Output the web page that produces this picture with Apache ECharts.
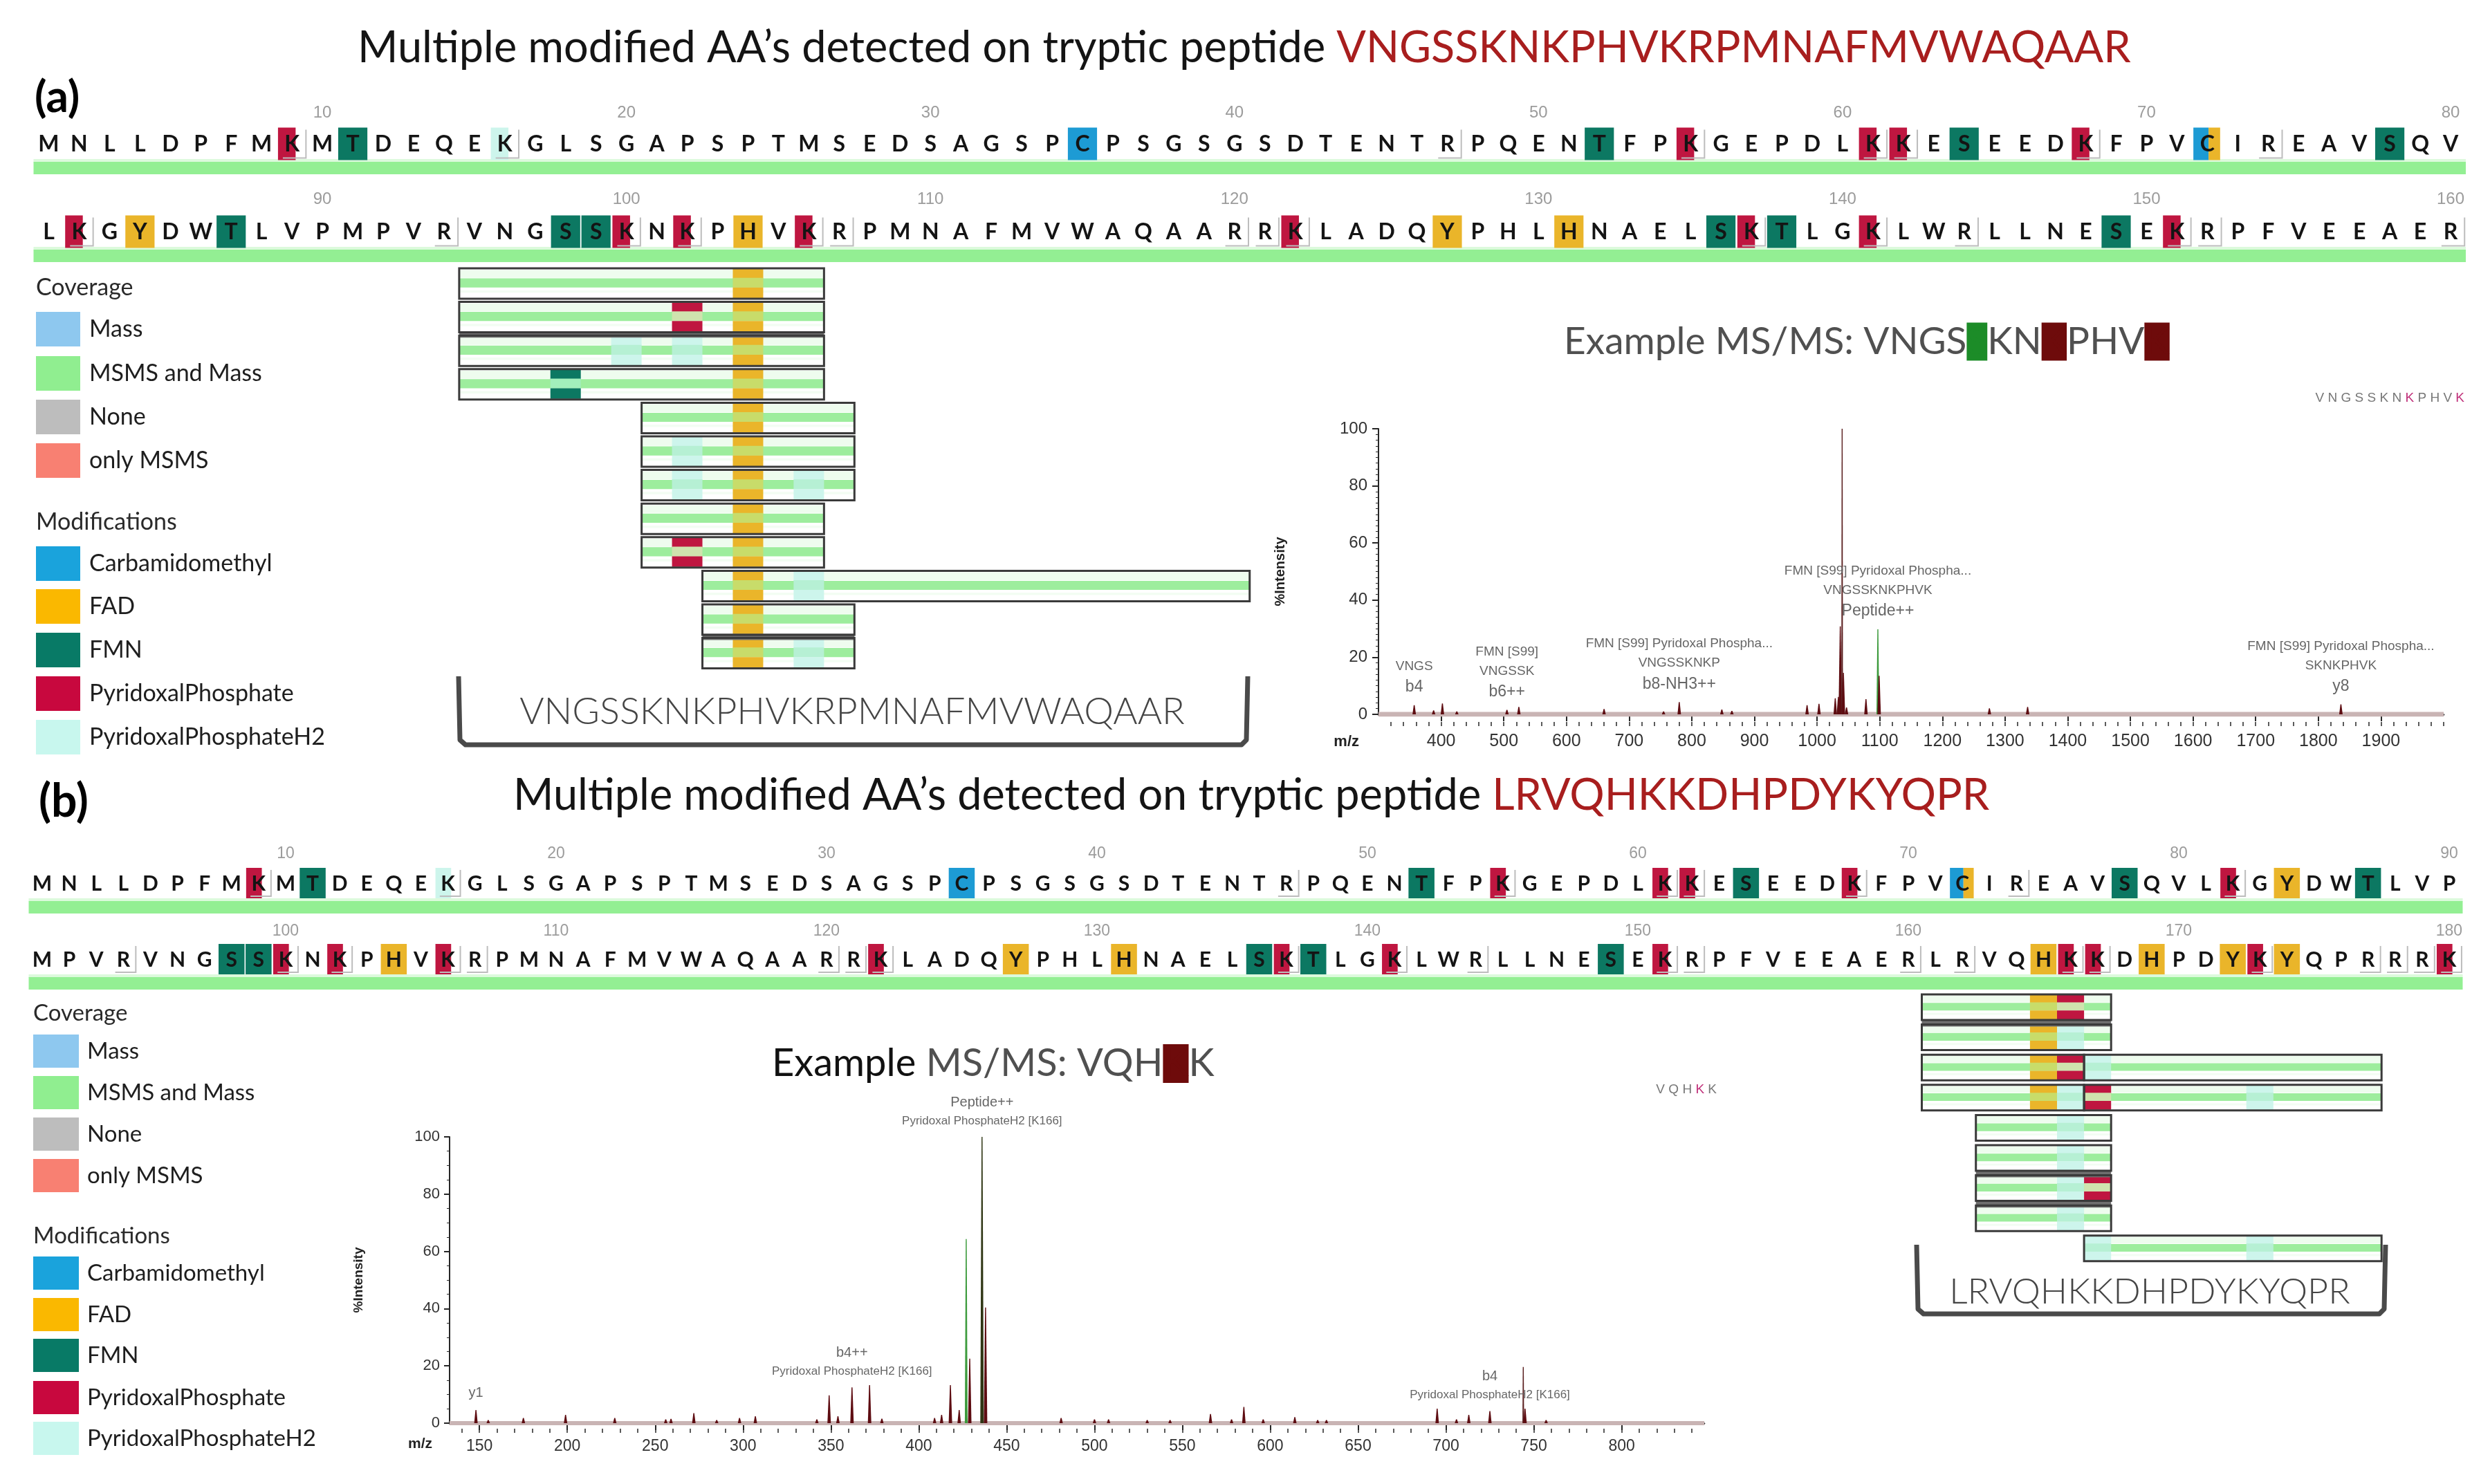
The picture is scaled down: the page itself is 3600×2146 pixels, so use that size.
<!DOCTYPE html>
<html>
<head>
<meta charset="utf-8">
<script src="https://cdn.jsdelivr.net/npm/echarts@6.0.0/dist/echarts.min.js"></script>
<style>
html,body{margin:0;padding:0;background:#ffffff;}
#chart{width:3600px;height:2146px;}
</style>
</head>
<body>
<div id="chart"></div>
<script>
// ================= DATA =================
const SEQUENCE = "MNLLDPFMKMTDEQEKGLSGAPSPTMSEDSAGSPCPSGSGSDTENTRPQENTFPKGEPDLKKESEEDKFPVCIREAVSQV" +
                 "LKGYDWTLVPMPVRVNGSSKNKPHVKRPMNAFMVWAQAARRKLADQYPHLHNAELSKTLGKLWRLLNESEKRPFVEEAER" +
                 "LRVQHKKDHPDYKYQPRRRK";
const PEPTIDE_A = "VNGSSKNKPHVKRPMNAFMVWAQAAR";
const PEPTIDE_B = "LRVQHKKDHPDYKYQPR";
const TITLE_TEXT = "Multiple modified AA\u2019s detected on tryptic peptide ";
const SEQ_TICKS_A = [10,20,30,40,50,60,70,80,90,100,110,120,130,140,150,160];
const SEQ_TICKS_B = [10,20,30,40,50,60,70,80,90,100,110,120,130,140,150,160,170,180];

// modified residues in the sequence view: [position, modification(s)]
const SEQ_MODS = [
  [9,'PP'],[11,'FMN'],[16,'PPH2'],[35,'CAM'],[52,'FMN'],[55,'PP'],[61,'PP'],[62,'PP'],[64,'FMN'],[68,'PP'],[72,'CAM','FAD'],[78,'FMN'],
  [82,'PP'],[84,'FAD'],[87,'FMN'],[98,'FMN'],[99,'FMN'],[100,'PP'],[102,'PP'],[104,'FAD'],[106,'PP'],[122,'PP'],[127,'FAD'],[131,'FAD'],
  [136,'FMN'],[137,'PP'],[138,'FMN'],[141,'PP'],[149,'FMN'],[151,'PP']
];
const SEQ_MODS_B_EXTRA = [[165,'FAD'],[166,'PP'],[167,'PP'],[169,'FAD'],[172,'FAD'],[173,'PP'],[174,'FAD'],[180,'PP']];

// peptide coverage bars: [start, end, row]
const COV_A = [[95,106,0],[95,106,1],[95,106,2],[95,106,3],[101,107,4],[101,107,5],[101,107,6],[101,106,7],[101,106,8],[103,120,9],[103,107,10],[103,107,11]];
const COV_A_MODS = [
  [0,104,'FAD'],
  [1,102,'PP'],[1,104,'FAD'],
  [2,100,'PPH2'],[2,102,'PPH2'],[2,104,'FAD'],
  [3,98,'FMN'],[3,104,'FAD'],
  [4,104,'FAD'],
  [5,102,'PPH2'],[5,104,'FAD'],
  [6,102,'PPH2'],[6,104,'FAD'],[6,106,'PPH2'],
  [7,104,'FAD'],
  [8,102,'PP'],[8,104,'FAD'],
  [9,104,'FAD'],[9,106,'PPH2'],
  [10,104,'FAD'],
  [11,104,'FAD'],[11,106,'PPH2']
];
// grey joins between stacked boxes: [start, end, row boundary]
const COV_A_JOINS = [[95,106,2],[103,107,11]];
const COV_B = [[161,167,0],[161,167,1],[161,166,2],[167,177,2],[161,166,3],[167,177,3],[163,167,4],[163,167,5],[163,167,6],[163,167,7],[167,177,8]];
const COV_B_MODS = [
  [0,165,'FAD'],[0,166,'PP'],
  [1,165,'FAD'],[1,166,'PPH2'],
  [2,165,'FAD'],[2,166,'PP'],[2,167,'PPH2'],
  [3,165,'FAD'],[3,166,'PPH2'],[3,167,'PP'],[3,173,'PPH2'],
  [4,166,'PPH2'],
  [5,166,'PPH2'],
  [6,166,'PPH2'],[6,167,'PP'],
  [7,166,'PPH2'],
  [8,167,'PPH2'],[8,173,'PPH2']
];
const COV_B_JOINS = [[161,167,1],[163,167,6],[163,167,7]];

// MS/MS spectrum (a)
const SPEC_A_MZ   = [357,388,402,425,505,524,660,755,780,848,864,984,1003,1029,1034,1037,1040,1042,1047,1078,1097,1099,1275,1336,1836];
const SPEC_A_INT  = [3.2,1.4,3.8,1.0,1.6,2.6,1.9,1.0,4.3,1.7,1.2,3.2,3.7,5.6,6.1,30.8,100,14.5,2.4,5.3,29.8,13.5,2.1,2.6,3.5];
const SPEC_A_KIND = [0,0,0,0,0,0,0,0,0,0,0,0,0,0,0,0,2,0,0,0,1,0,0,0,0];
const SPEC_A_TICKS = [400,500,600,700,800,900,1000,1100,1200,1300,1400,1500,1600,1700,1800,1900];
const ANN_A_MZ = [357,505,780,1097,1836];
const ANN_A_TEXT = [
  ['VNGS','b4'],
  ['FMN [S99]','VNGSSK','b6++'],
  ['FMN [S99] Pyridoxal Phospha...','VNGSSKNKP','b8-NH3++'],
  ['FMN [S99] Pyridoxal Phospha...','VNGSSKNKPHVK','Peptide++'],
  ['FMN [S99] Pyridoxal Phospha...','SKNKPHVK','y8']
];

// MS/MS spectrum (b)
const SPEC_B_MZ   = [148,155,175,199,227,256,259,272,285,298,307,342,349,354,362,372,379,409,413,418,423,427,429,436,438,481,500,508,530,543,566,578,585,596,614,627,632,695,706,713,725,744,745,757];
const SPEC_B_INT  = [4.6,1.1,1.8,2.9,1.8,1.3,1.5,3.5,1.1,1.8,2.4,1.3,9.7,2.4,12.5,13.3,1.6,1.8,2.9,13.3,4.6,64.3,22.5,100,40.4,1.8,1.3,1.3,1.1,1.1,3.2,1.3,5.7,1.3,2.1,1.1,1.1,5.1,1.3,2.9,4.2,19.6,5.1,1.1];
const SPEC_B_KIND = [0,0,0,0,0,0,0,0,0,0,0,0,0,0,0,0,0,0,0,0,0,1,0,3,0,0,0,0,0,0,0,0,0,0,0,0,0,0,0,0,0,2,0,0];
const SPEC_B_TICKS = [150,200,250,300,350,400,450,500,550,600,650,700,750,800];
const ANN_B_MZ = [148,362,436,725];
const ANN_B_TEXT = [
  ['y1'],
  ['b4++','Pyridoxal PhosphateH2 [K166]'],
  ['Peptide++','Pyridoxal PhosphateH2 [K166]'],
  ['b4','Pyridoxal PhosphateH2 [K166]']
];

const LEGEND_COVERAGE = [['Mass','#8ec8ef'],['MSMS and Mass','#90ee90'],['None','#bdbdbd'],['only MSMS','#f88072']];
const LEGEND_MODS = [['Carbamidomethyl','#1aa3dc'],['FAD','#fab800'],['FMN','#087a66'],['PyridoxalPhosphate','#c8083e'],['PyridoxalPhosphateH2','#c8f7ee']];

// ================= STYLE =================
const F_TXT = "Lato, 'Open Sans', sans-serif";
const F_NUM = "'Liberation Sans Narrow', 'Liberation Sans', Arial, sans-serif";
const MOD_COLOR = {CAM:'#1d9bd4', FAD:'#eab52a', FMN:'#0c7862', PP:'#bf1640', PPH2:'#cdf5ec'};
const MOD_MID = {CAM:'#7fcbd0', FAD:'#c8dc6a', FMN:'#a2efbc', PP:'#cfe3ae', PPH2:'#b6f0d4'};
const COV_GREEN = '#9ded9d';
const PEAK_STYLE = {0:{color:'#5e0d12', w:5}, 1:{color:'#3d9b3d', w:4}, 2:{color:'#5a1f1f', w:2.4}, 3:{color:'#2f3614', w:5}};

const ROWS = [
  {start:1,  end:80,  letterY:208,  left:48.5, width:3516.5, font:32, hl:47, numOff:45, numFont:24, ticks:SEQ_TICKS_A, extra:false},
  {start:81, end:160, letterY:335,  left:48.5, width:3516.5, font:32, hl:47, numOff:47, numFont:24, ticks:SEQ_TICKS_A, extra:false},
  {start:1,  end:90,  letterY:1277, left:41.5, width:3519,   font:30, hl:44, numOff:42, numFont:23, ticks:SEQ_TICKS_B, extra:true},
  {start:91, end:180, letterY:1387, left:41.5, width:3519,   font:30, hl:44, numOff:40, numFont:23, ticks:SEQ_TICKS_B, extra:true}
];

function buildModMap(withExtra) {
  const m = {};
  SEQ_MODS.forEach(e => { m[e[0]] = e.slice(1); });
  if (withExtra) SEQ_MODS_B_EXTRA.forEach(e => { m[e[0]] = e.slice(1); });
  return m;
}
function R(x, y, w, h, fill, extra) { return Object.assign({type:'rect', shape:{x:x, y:y, width:w, height:h}, style:{fill:fill}}, extra || {}); }
function T(x, y, text, font, fill, align, valign) {
  return {type:'text', x:x, y:y, style:{text:text, font:font, fill:fill,
    textAlign:align || 'left', textVerticalAlign:valign || 'middle', align:align || 'left', verticalAlign:valign || 'middle'}};
}

function makeSeqRender(cfg, modMap) {
  return function (params, api) {
    const pos = api.value(0);
    const ch = SEQUENCE[pos - 1];
    const c = api.coord([pos, 0.5]);
    const w = api.size([1, 0])[0];
    const cx = c[0], cy = c[1], hh = cfg.hl;
    const kids = [];
    const mods = modMap[pos];
    if (mods) {
      if (mods.length === 2) {
        kids.push(R(cx - 0.46 * w, cy - hh / 2, 0.5 * w, hh, MOD_COLOR[mods[0]]));
        kids.push(R(cx + 0.04 * w, cy - hh / 2, 0.38 * w, hh, MOD_COLOR[mods[1]]));
      } else if (ch === 'K') {
        kids.push(R(cx - 0.46 * w, cy - hh / 2, 0.58 * w, hh, MOD_COLOR[mods[0]]));
      } else {
        kids.push(R(cx - 0.48 * w, cy - hh / 2, 0.96 * w, hh, MOD_COLOR[mods[0]]));
      }
    }
    if (ch === 'K' || ch === 'R') {
      kids.push({type:'polyline', shape:{points:[[cx + 0.46 * w, cy - hh / 2 + 3], [cx + 0.46 * w, cy + hh / 2 - 3], [cx - 0.3 * w, cy + hh / 2 - 3]]},
        style:{stroke:'#bdbdbd', lineWidth:2, fill:null}});
    }
    kids.push(T(cx, cy + 1, ch, 'bold ' + cfg.font + 'px ' + F_TXT, '#141414', 'center', 'middle'));
    if (cfg.ticks.indexOf(pos) >= 0) {
      kids.push(T(cx, cy - cfg.numOff, String(pos), cfg.numFont + 'px ' + F_NUM, '#9c9c9c', 'center', 'middle'));
    }
    return {type:'group', children:kids};
  };
}
function makeBarRender(cfg) {
  return function (params, api) {
    const p0 = api.coord([api.value(0) - 0.5, 0.5]);
    const p1 = api.coord([api.value(1) + 0.5, 0.5]);
    return {type:'group', children:[
      R(p0[0], p0[1] + 22, p1[0] - p0[0], 5, '#dcfadc'),
      R(p0[0], p0[1] + 26, p1[0] - p0[0], 18, '#93ef93')
    ]};
  };
}

// coverage boxes
function makeCovFill(lay) {
  return function (params, api) {
    const s = api.value(0), e = api.value(1), r = api.value(2);
    const p0 = api.coord([s - 0.5, r]), p1 = api.coord([e + 0.5, r]);
    const x = p0[0], w = p1[0] - p0[0], y = p0[1] + lay.padTop, h = lay.boxH;
    return {type:'group', children:[
      R(x, y, w, h, '#ffffff'),
      R(x, y + 0.05 * h, w, 0.26 * h, '#eefcee'),
      R(x, y + 0.33 * h, w, 0.3 * h, COV_GREEN),
      R(x, y + 0.72 * h, w, 0.08 * h, '#f3fdf3')
    ]};
  };
}
function makeCovMods(lay, list) {
  return function (params, api) {
    const r = api.value(0), res = api.value(1);
    const type = list[params.dataIndex][2];
    const p0 = api.coord([res - 0.5, r]), p1 = api.coord([res + 0.5, r]);
    const x = p0[0], w = p1[0] - p0[0], y = p0[1] + lay.padTop, h = lay.boxH;
    return {type:'group', children:[
      R(x, y + 1, w, 0.31 * h, MOD_COLOR[type]),
      R(x, y + 0.31 * h, w, 0.32 * h, MOD_MID[type]),
      R(x, y + 0.63 * h, w, 0.37 * h - 1, MOD_COLOR[type])
    ]};
  };
}
function makeCovOutline(lay) {
  return function (params, api) {
    const s = api.value(0), e = api.value(1), r = api.value(2);
    const p0 = api.coord([s - 0.5, r]), p1 = api.coord([e + 0.5, r]);
    return R(p0[0], p0[1] + lay.padTop, p1[0] - p0[0], lay.boxH, 'none', {style:{fill:'none', stroke:'#3a3a3a', lineWidth:3}});
  };
}
function makeCovJoin(lay) {
  return function (params, api) {
    const s = api.value(0), e = api.value(1), r = api.value(2);
    const p0 = api.coord([s - 0.5, r]), p1 = api.coord([e + 0.5, r]);
    return R(p0[0], p0[1] - 4, p1[0] - p0[0], lay.padTop + 7, '#6e6e6e');
  };
}

// spectra
function makePeakRender(kinds) {
  return function (params, api) {
    const mz = api.value(0), it = api.value(1);
    const st = PEAK_STYLE[kinds[params.dataIndex]];
    const b = api.coord([mz, 0]), t = api.coord([mz, it]);
    return {type:'polygon', shape:{points:[[b[0] - st.w / 2, b[1]], [b[0] - 0.7, t[1]], [b[0] + 0.7, t[1]], [b[0] + st.w / 2, b[1]]]}, style:{fill:st.color}};
  };
}
function intensityAt(mzs, ints, mz) { return ints[mzs.indexOf(mz)]; }
function makeAnnRender(texts, ionFirst, rich, gap) {
  return function (params, api) {
    const p = api.coord([api.value(0), api.value(1)]);
    const lines = texts[params.dataIndex];
    const s = lines.map((l, i) => {
      const ion = ionFirst ? i === 0 : i === lines.length - 1;
      return '{' + (ion ? 'i' : 's') + '|' + l + '}';
    }).join('\n');
    return {type:'text', x:p[0], y:p[1] - gap, style:{text:s, rich:rich, textAlign:'center', textVerticalAlign:'bottom', align:'center', verticalAlign:'bottom'}};
  };
}

// ================= OPTION =================
const grid = [], xAxis = [], yAxis = [], series = [];

ROWS.forEach((cfg, i) => {
  grid.push({left:cfg.left, top:cfg.letterY - 50, width:cfg.width, height:100});
  xAxis.push({gridIndex:i, type:'value', min:cfg.start - 0.5, max:cfg.end + 0.5, show:false});
  yAxis.push({gridIndex:i, type:'value', min:0, max:1, show:false});
  const modMap = buildModMap(cfg.extra);
  const data = [];
  for (let p = cfg.start; p <= cfg.end; p++) data.push([p, 0.5]);
  series.push({type:'custom', xAxisIndex:i, yAxisIndex:i, silent:true, z:1, data:[[cfg.start, cfg.end]], renderItem:makeBarRender(cfg)});
  series.push({type:'custom', xAxisIndex:i, yAxisIndex:i, silent:true, z:2, data:data, renderItem:makeSeqRender(cfg, modMap)});
});

// coverage grids (4: a, 5: b)
const LAY_A = {padTop:2, boxH:44}, LAY_B = {padTop:2, boxH:37};
grid.push({left:48.5, top:386, width:3516.5, height:12 * 48.6});
xAxis.push({gridIndex:4, type:'value', min:80.5, max:160.5, show:false});
yAxis.push({gridIndex:4, type:'value', min:0, max:12, inverse:true, show:false});
grid.push({left:41.5, top:1436, width:3519, height:9 * 43.6});
xAxis.push({gridIndex:5, type:'value', min:90.5, max:180.5, show:false});
yAxis.push({gridIndex:5, type:'value', min:0, max:9, inverse:true, show:false});

series.push({type:'custom', xAxisIndex:4, yAxisIndex:4, silent:true, z:3, data:COV_A, renderItem:makeCovFill(LAY_A)});
series.push({type:'custom', xAxisIndex:4, yAxisIndex:4, silent:true, z:4, data:COV_A_MODS.map(m => [m[0], m[1]]), renderItem:makeCovMods(LAY_A, COV_A_MODS)});
series.push({type:'custom', xAxisIndex:4, yAxisIndex:4, silent:true, z:5, data:COV_A_JOINS, renderItem:makeCovJoin(LAY_A)});
series.push({type:'custom', xAxisIndex:4, yAxisIndex:4, silent:true, z:5, data:COV_A, renderItem:makeCovOutline(LAY_A)});
series.push({type:'custom', xAxisIndex:5, yAxisIndex:5, silent:true, z:3, data:COV_B, renderItem:makeCovFill(LAY_B)});
series.push({type:'custom', xAxisIndex:5, yAxisIndex:5, silent:true, z:4, data:COV_B_MODS.map(m => [m[0], m[1]]), renderItem:makeCovMods(LAY_B, COV_B_MODS)});
series.push({type:'custom', xAxisIndex:5, yAxisIndex:5, silent:true, z:5, data:COV_B_JOINS, renderItem:makeCovJoin(LAY_B)});
series.push({type:'custom', xAxisIndex:5, yAxisIndex:5, silent:true, z:5, data:COV_B, renderItem:makeCovOutline(LAY_B)});

// spectrum grids (6: a, 7: b)
grid.push({left:1993, top:620, width:1540, height:413});
grid.push({left:650, top:1644, width:1814, height:414});
const axisCol = '#262626';
const plain = v => String(v);
xAxis.push({gridIndex:6, type:'value', position:'bottom', min:300, max:2000, offset:11,
  axisLine:{lineStyle:{color:axisCol, width:2.5}},
  axisTick:{customValues:SPEC_A_TICKS, length:10, lineStyle:{color:axisCol, width:2}},
  axisLabel:{customValues:SPEC_A_TICKS, formatter:plain, fontSize:25, color:'#333', margin:16, fontFamily:F_NUM},
  splitLine:{show:false}});
const minorA = []; for (let v = 320; v <= 2000; v += 20) minorA.push(v);
xAxis.push({gridIndex:6, type:'value', position:'bottom', min:300, max:2000, offset:11,
  axisLine:{show:false}, axisLabel:{show:false}, splitLine:{show:false},
  axisTick:{customValues:minorA, length:6, lineStyle:{color:axisCol, width:1.5}}});
yAxis.push({gridIndex:6, type:'value', min:0, max:100, interval:20,
  axisLine:{show:true, lineStyle:{color:axisCol, width:2}},
  axisTick:{show:true, length:9, lineStyle:{color:axisCol, width:2}},
  minorTick:{show:true, splitNumber:10, length:4, lineStyle:{color:axisCol, width:1}},
  axisLabel:{fontSize:24, color:'#333', margin:16, fontFamily:F_NUM},
  splitLine:{show:false}, minorSplitLine:{show:false},
  name:'%Intensity', nameLocation:'middle', nameRotate:90, nameGap:132,
  nameTextStyle:{fontSize:20, fontWeight:'bold', color:'#222', fontFamily:F_NUM}});

xAxis.push({gridIndex:7, type:'value', position:'bottom', min:133, max:847, offset:8,
  axisLine:{lineStyle:{color:axisCol, width:2.5}},
  axisTick:{customValues:SPEC_B_TICKS, length:10, lineStyle:{color:axisCol, width:2}},
  axisLabel:{customValues:SPEC_B_TICKS, formatter:plain, fontSize:23, color:'#333', margin:14, fontFamily:F_NUM},
  splitLine:{show:false}});
const minorB = []; for (let v = 140; v <= 840; v += 10) minorB.push(v);
xAxis.push({gridIndex:7, type:'value', position:'bottom', min:133, max:847, offset:8,
  axisLine:{show:false}, axisLabel:{show:false}, splitLine:{show:false},
  axisTick:{customValues:minorB, length:6, lineStyle:{color:axisCol, width:1.5}}});
yAxis.push({gridIndex:7, type:'value', min:0, max:100, interval:20,
  axisLine:{show:true, lineStyle:{color:axisCol, width:2}},
  axisTick:{show:true, length:8, lineStyle:{color:axisCol, width:2}},
  minorTick:{show:true, splitNumber:4, length:4, lineStyle:{color:axisCol, width:1}},
  axisLabel:{fontSize:22, color:'#333', margin:14, fontFamily:F_NUM},
  splitLine:{show:false}, minorSplitLine:{show:false},
  name:'%Intensity', nameLocation:'middle', nameRotate:90, nameGap:122,
  nameTextStyle:{fontSize:19, fontWeight:'bold', color:'#222', fontFamily:F_NUM}});

// x axis indices: 0-3 seq, 4 covA, 5 covB, 6 specA, 7 specA minor, 8 specB, 9 specB minor
series.push({type:'line', xAxisIndex:6, yAxisIndex:6, silent:true, symbol:'none', z:2,
  data:[[300, 0], [2000, 0]], lineStyle:{color:'#c9b4b4', width:7}});
series.push({type:'custom', xAxisIndex:6, yAxisIndex:6, silent:true, z:3,
  data:SPEC_A_MZ.map((m, i) => [m, SPEC_A_INT[i]]), renderItem:makePeakRender(SPEC_A_KIND)});
series.push({type:'custom', xAxisIndex:6, yAxisIndex:6, silent:true, z:4, clip:false,
  data:ANN_A_MZ.map(m => [m, intensityAt(SPEC_A_MZ, SPEC_A_INT, m)]),
  renderItem:makeAnnRender(ANN_A_TEXT, false, {
    s:{fontSize:19, fontFamily:F_NUM, fill:'#666', color:'#666', lineHeight:28},
    i:{fontSize:23, fontFamily:F_NUM, fill:'#666', color:'#666', lineHeight:32}}, 10)});

series.push({type:'line', xAxisIndex:8, yAxisIndex:7, silent:true, symbol:'none', z:2,
  data:[[133, 0], [847, 0]], lineStyle:{color:'#c9b4b4', width:6}});
series.push({type:'custom', xAxisIndex:8, yAxisIndex:7, silent:true, z:3,
  data:SPEC_B_MZ.map((m, i) => [m, SPEC_B_INT[i]]), renderItem:makePeakRender(SPEC_B_KIND)});
series.push({type:'custom', xAxisIndex:8, yAxisIndex:7, silent:true, z:4, clip:false,
  data:ANN_B_MZ.map(m => [m, intensityAt(SPEC_B_MZ, SPEC_B_INT, m)]),
  renderItem:makeAnnRender(ANN_B_TEXT, true, {
    s:{fontSize:17, fontFamily:F_NUM, fill:'#666', color:'#666', lineHeight:26},
    i:{fontSize:20, fontFamily:F_NUM, fill:'#666', color:'#666', lineHeight:28}}, 10)});

// ================= GRAPHIC (text, legend, brackets) =================
const G = [];
function richText(x, y, text, rich, align) {
  return {type:'text', x:x, y:y, silent:true, style:{text:text, rich:rich,
    textAlign:align || 'left', textVerticalAlign:'middle', align:align || 'left', verticalAlign:'middle'}};
}
function rs(size, color, extra) { return Object.assign({fontSize:size, fontFamily:F_TXT, fill:color, color:color}, extra || {}); }

G.push(richText(517, 70, '{k|' + TITLE_TEXT + '}{r|' + PEPTIDE_A + '}', {k:rs(63, '#141414'), r:rs(63, '#a81e1e')}));
G.push(richText(742, 1151, '{k|' + TITLE_TEXT + '}{r|' + PEPTIDE_B + '}', {k:rs(63, '#141414'), r:rs(63, '#a81e1e')}));
G.push(T(50, 141, '(a)', 'bold 64px ' + F_TXT, '#000', 'left', 'middle'));
G.push(T(56, 1160, '(b)', 'bold 66px ' + F_TXT, '#000', 'left', 'middle'));

// MS/MS example titles
G.push(richText(2261, 494, '{g|Example MS/MS: VNGS}{G|S}{g|KN}{D|K}{g|PHV}{D|K}', {
  g:rs(55, '#505050', {lineHeight:76}),
  G:rs(55, '#1c8c28', {backgroundColor:'#1c8c28', lineHeight:76}),
  D:rs(55, '#6e0b0b', {backgroundColor:'#6e0b0b', lineHeight:76})}));
G.push(richText(1116, 1538, '{k|Example }{g|MS/MS: VQH}{D|K}{g|K}', {
  k:rs(56, '#111', {lineHeight:76}),
  g:rs(56, '#505050', {lineHeight:76}),
  D:rs(56, '#6e0b0b', {backgroundColor:'#6e0b0b', lineHeight:76})}));
// small peptide annotations on the spectra
G.push(richText(3563, 576, '{g|V N G S S K N }{p|K}{g| P H V }{p|K}', {g:rs(19, '#777', {fontFamily:F_NUM}), p:rs(19, '#c0307a', {fontFamily:F_NUM})}, 'right'));
G.push(richText(2482, 1576, '{g|V Q H }{p|K}{g| K}', {g:rs(19, '#777', {fontFamily:F_NUM}), p:rs(19, '#c0307a', {fontFamily:F_NUM})}, 'right'));
// m/z labels
G.push(T(1965, 1073, 'm/z', 'bold 22px ' + F_NUM, '#222', 'right', 'middle'));
G.push(T(625, 2088, 'm/z', 'bold 21px ' + F_NUM, '#222', 'right', 'middle'));

// legends
function legend(sx, tx, covHeadY, covY, modHeadY, modY, sw, sh, fs) {
  G.push(T(sx, covHeadY, 'Coverage', fs + 'px ' + F_TXT, '#2a2a2a', 'left', 'middle'));
  LEGEND_COVERAGE.forEach((it, i) => {
    G.push(R(sx, covY[i] - sh / 2, sw, sh, it[1], {silent:true}));
    G.push(T(tx, covY[i], it[0], fs + 'px ' + F_TXT, '#1e1e1e', 'left', 'middle'));
  });
  G.push(T(sx, modHeadY, 'Modifications', fs + 'px ' + F_TXT, '#2a2a2a', 'left', 'middle'));
  LEGEND_MODS.forEach((it, i) => {
    G.push(R(sx, modY[i] - sh / 2, sw, sh, it[1], {silent:true}));
    G.push(T(tx, modY[i], it[0], fs + 'px ' + F_TXT, '#1e1e1e', 'left', 'middle'));
  });
}
legend(52, 129, 416, [476, 540, 603, 666], 755, [815, 877, 940, 1003, 1066], 64, 50, 34);
legend(48, 126, 1465, [1520, 1580, 1640, 1700], 1787, [1841, 1901, 1960, 2021, 2080], 66, 48, 33);

// peptide brackets
G.push({type:'polyline', silent:true, shape:{points:[[663, 978], [665, 1070], [673, 1077], [1795, 1077], [1802, 1070], [1804, 978]]},
  style:{stroke:'#4a4a4a', lineWidth:7, fill:null, lineJoin:'round'}});
G.push(T(1232, 1030, PEPTIDE_A, '300 54px ' + F_TXT, '#454545', 'center', 'middle'));
G.push({type:'polyline', silent:true, shape:{points:[[2771, 1800], [2773, 1893], [2781, 1900], [3440, 1900], [3447, 1893], [3449, 1800]]},
  style:{stroke:'#4a4a4a', lineWidth:7, fill:null, lineJoin:'round'}});
G.push(T(3108, 1868, PEPTIDE_B, '300 52px ' + F_TXT, '#454545', 'center', 'middle'));

const chart = echarts.init(document.getElementById('chart'), null, {renderer:'canvas', width:3600, height:2146});
chart.setOption({
  animation:false,
  backgroundColor:'#ffffff',
  grid:grid, xAxis:xAxis, yAxis:yAxis, series:series,
  graphic:{elements:G}
});
</script>
</body>
</html>
